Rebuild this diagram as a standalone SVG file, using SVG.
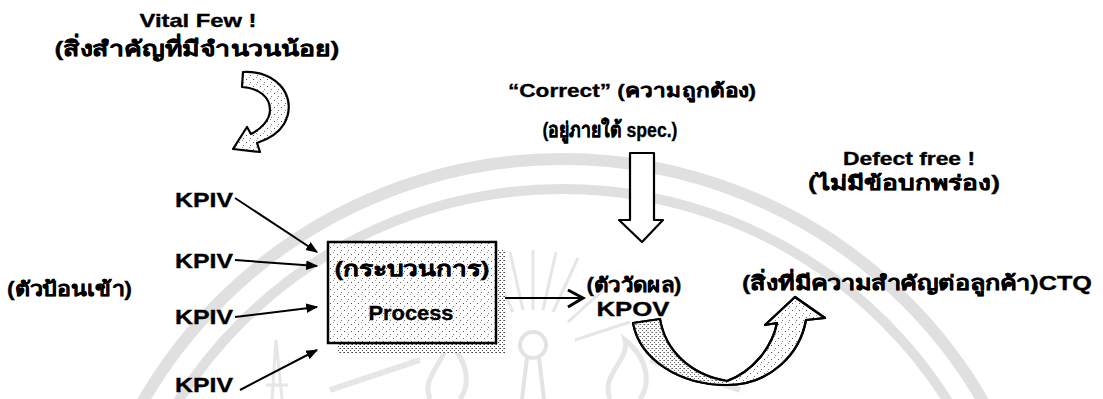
<svg xmlns="http://www.w3.org/2000/svg" width="1103" height="399" viewBox="0 0 1103 399">
  <defs>
    <style>
      .t { font-family: "Liberation Sans", "Noto Sans", "DejaVu Sans", sans-serif; font-weight: bold; fill: #000; stroke: #000; stroke-width: 0.35; }
      .c { text-anchor: middle; }
      .wm { fill: none; stroke: #e0e0e0; }
      .edge { stroke: #000; stroke-width: 2; fill: none; }
      .shape { stroke: #000; stroke-width: 2.2; stroke-linejoin: round; }
    </style>
    <!-- light dither used inside the block arrows and the process box -->
    <pattern id="dither" width="7" height="7" patternUnits="userSpaceOnUse">
      <rect width="7" height="7" fill="#fff"/>
      <rect x="1" y="2" width="1" height="1" fill="#555"/>
      <rect x="5" y="5" width="1" height="1" fill="#777"/>
      <rect x="4" y="0" width="1" height="1" fill="#999"/>
    </pattern>
    <pattern id="ditherDark" width="4" height="4" patternUnits="userSpaceOnUse">
      <rect width="4" height="4" fill="#fff"/>
      <rect x="0" y="0" width="1" height="1" fill="#444"/>
      <rect x="2" y="2" width="1" height="1" fill="#444"/>
      <rect x="3" y="0" width="1" height="1" fill="#888"/>
    </pattern>
    <marker id="head" viewBox="0 0 10 10" refX="9" refY="5" markerWidth="6" markerHeight="6" orient="auto" markerUnits="strokeWidth">
      <path d="M0,1 L10,5 L0,9 Z" fill="#000"/>
    </marker>
    <clipPath id="leftHalf">
      <rect x="600" y="300" width="127" height="99"/>
    </clipPath>
  </defs>

  <rect width="1103" height="399" fill="#fff"/>

  <!-- faint seal in the background -->
  <g id="seal">
    <circle class="wm" cx="563" cy="644" r="485" stroke-width="12"/>
    <circle class="wm" cx="563" cy="644" r="455" stroke-width="10"/>
    <g stroke="#e6e6e6" stroke-width="3">
      <line x1="533" y1="310" x2="533" y2="250"/>
      <line x1="553" y1="312" x2="578" y2="258"/>
      <line x1="513" y1="312" x2="488" y2="258"/>
      <line x1="568" y1="322" x2="612" y2="282"/>
      <line x1="498" y1="322" x2="454" y2="282"/>
      <line x1="575" y1="340" x2="630" y2="322"/>
      <line x1="491" y1="340" x2="436" y2="322"/>
      <line x1="543" y1="310" x2="556" y2="252"/>
      <line x1="523" y1="310" x2="510" y2="252"/>
    </g>
    <circle cx="533" cy="345" r="13" fill="none" stroke="#e3e3e3" stroke-width="4"/>
    <path d="M527,358 L522,399 M539,358 L544,399" stroke="#e3e3e3" stroke-width="4" fill="none"/>
    <path d="M430,399 C420,375 450,360 445,340 C470,360 470,385 460,399" fill="none" stroke="#e6e6e6" stroke-width="5"/>
    <path d="M610,399 C600,375 630,360 625,340 C650,360 650,385 640,399" fill="none" stroke="#e6e6e6" stroke-width="5"/>
    <path d="M272,399 L276,340 L282,399 M266,385 L288,385" fill="none" stroke="#e6e6e6" stroke-width="3"/>
    <path d="M330,390 L420,360 M650,360 L740,390" fill="none" stroke="#e6e6e6" stroke-width="6"/>
  </g>

  <!-- top-left note -->
  <g id="vital-few">
    <text class="t c" x="198" y="27" font-size="19" textLength="117" lengthAdjust="spacingAndGlyphs">Vital Few !</text>
    <text class="t c" x="197" y="56" font-size="21" textLength="285" lengthAdjust="spacingAndGlyphs">(สิ่งสำคัญที่มีจำนวนน้อย)</text>
    <path class="shape" fill="url(#dither)" d="M243,72 C280,70 298,100 284,124 C278,134 269,139 257,143 L260,152 L233,149 L247,127 L251,134 C261,129 270,120 270,110 C270,97 259,88 242,87 Z"/>
  </g>

  <!-- correctness note -->
  <g id="correct">
    <text class="t c" x="632" y="97" font-size="19" textLength="248" lengthAdjust="spacingAndGlyphs">“Correct” (ความถูกต้อง)</text>
    <text class="t c" x="610" y="137" font-size="21" textLength="135" lengthAdjust="spacingAndGlyphs">(อยู่ภายใต้ spec.)</text>
    <polygon class="shape" fill="#fff" points="630,153 654,153 654,220 663,220 642,242 619,220 630,220"/>
  </g>

  <!-- defect free note -->
  <g id="defect-free">
    <text class="t c" x="909" y="165" font-size="18" textLength="132" lengthAdjust="spacingAndGlyphs">Defect free !</text>
    <text class="t c" x="904" y="190" font-size="20" textLength="192" lengthAdjust="spacingAndGlyphs">(ไม่มีข้อบกพร่อง)</text>
  </g>

  <!-- inputs -->
  <g id="inputs">
    <text class="t" x="7" y="296" font-size="20" textLength="125" lengthAdjust="spacingAndGlyphs">(ตัวป้อนเข้า)</text>
    <text class="t" x="175" y="207" font-size="21" textLength="58" lengthAdjust="spacingAndGlyphs">KPIV</text>
    <text class="t" x="175" y="268" font-size="21" textLength="58" lengthAdjust="spacingAndGlyphs">KPIV</text>
    <text class="t" x="175" y="324" font-size="21" textLength="58" lengthAdjust="spacingAndGlyphs">KPIV</text>
    <text class="t" x="175" y="392" font-size="21" textLength="58" lengthAdjust="spacingAndGlyphs">KPIV</text>
  </g>

  <!-- process block -->
  <g id="process">
    <rect x="337" y="250" width="168" height="103" fill="url(#ditherDark)"/>
    <rect x="328" y="242" width="168" height="101" fill="url(#dither)" stroke="#000" stroke-width="2.5"/>
    <text class="t c" x="412" y="276" font-size="21" textLength="155" lengthAdjust="spacingAndGlyphs">(กระบวนการ)</text>
    <text class="t c" x="411" y="320" font-size="21" textLength="85" lengthAdjust="spacingAndGlyphs">Process</text>
  </g>

  <!-- output -->
  <g id="output">
    <text class="t c" x="634" y="292" font-size="20" textLength="95" lengthAdjust="spacingAndGlyphs">(ตัววัดผล)</text>
    <text class="t c" x="633" y="316" font-size="21" textLength="73" lengthAdjust="spacingAndGlyphs">KPOV</text>
  </g>

  <!-- customer side -->
  <g id="ctq">
    <text class="t" x="742" y="290" font-size="20" textLength="350" lengthAdjust="spacingAndGlyphs">(สิ่งที่มีความสำคัญต่อลูกค้า)CTQ</text>
    <path class="shape" fill="url(#dither)" d="M660,319 C665,350 690,375 727,381 C752,372 772,348 777,323 L765,325 L795,297 L825,318 L806,320 C800,354 770,385 727,385 C680,385 640,360 633,323 Z"/>
    <path fill="url(#ditherDark)" clip-path="url(#leftHalf)" stroke="none" d="M660,319 C665,350 690,375 727,381 L727,385 C680,385 640,360 633,323 Z" opacity="0.8"/>
    <path class="shape" fill="none" d="M660,319 C665,350 690,375 727,381 C752,372 772,348 777,323 L765,325 L795,297 L825,318 L806,320 C800,354 770,385 727,385 C680,385 640,360 633,323 Z"/>
  </g>

  <!-- connectors -->
  <g id="connectors">
    <line class="edge" x1="235" y1="198" x2="317" y2="252" marker-end="url(#head)"/>
    <line class="edge" x1="235" y1="260" x2="317" y2="266" marker-end="url(#head)"/>
    <line class="edge" x1="235" y1="317" x2="317" y2="307" marker-end="url(#head)"/>
    <line class="edge" x1="240" y1="390" x2="317" y2="350" marker-end="url(#head)"/>
    <line class="edge" x1="505" y1="298" x2="581" y2="298" stroke-width="2.5"/>
    <polyline points="568,290 583,298 568,307" fill="none" stroke="#000" stroke-width="3"/>
  </g>
</svg>
